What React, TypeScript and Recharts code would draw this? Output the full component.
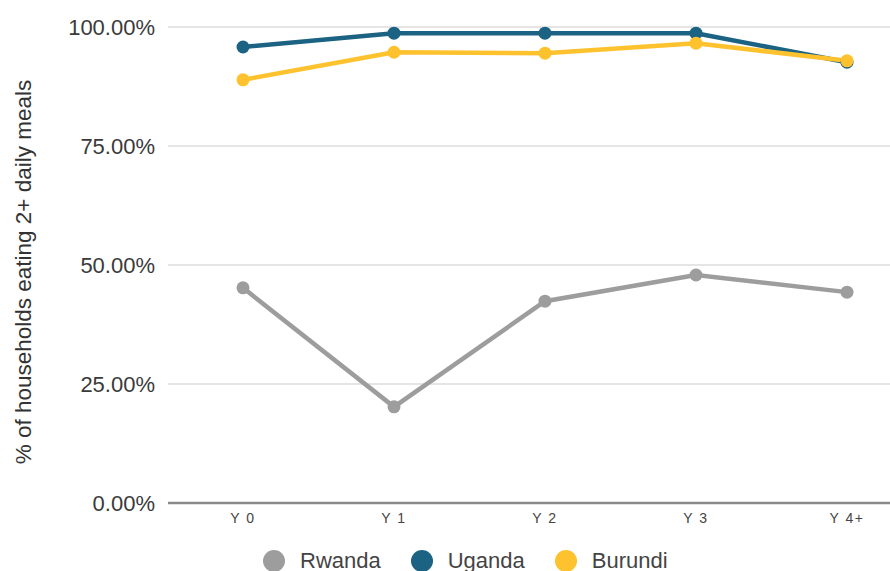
import { LineChart, Line, XAxis, YAxis, CartesianGrid, Legend } from 'recharts';

const years = ['Y 0', 'Y 1', 'Y 2', 'Y 3', 'Y 4+'];
const rwanda = [45.2, 20.2, 42.4, 47.9, 44.3];
const uganda = [95.8, 98.7, 98.7, 98.7, 92.6];
const burundi = [88.9, 94.7, 94.5, 96.6, 92.9];
const yTicks = [0, 25, 50, 75, 100];

const series = [
    { key: 'Rwanda', color: '#9d9d9d' },
    { key: 'Uganda', color: '#1b6283' },
    { key: 'Burundi', color: '#fdc22e' },
];

const data = years.map((year, i) => ({ year, Rwanda: rwanda[i], Uganda: uganda[i], Burundi: burundi[i] }));

const font = '"Liberation Sans", Arial, sans-serif';

function LegendContent() {
    return (
        <div style={{ display: 'flex', alignItems: 'center', height: 25, paddingLeft: 263, paddingTop: 17, fontFamily: font, fontSize: 22, color: '#444' }}>
            {series.map((s) => (
                <div key={s.key} style={{ display: 'flex', alignItems: 'center', marginRight: 30 }}>
                    <span style={{ width: 22, height: 22, borderRadius: 11, background: s.color, display: 'inline-block', marginRight: 15 }} />
                    <span>{s.key}</span>
                </div>
            ))}
        </div>
    );
}

export default function App() {
    return (
        <div style={{ position: 'fixed', left: 0, top: 0, width: 890, height: 571, overflow: 'hidden', background: '#fff' }}>
            <LineChart width={922} height={571} data={data} margin={{ top: 27, right: 0, left: 0, bottom: 0 }}>
                <CartesianGrid vertical={false} stroke="#dcdcdc" strokeWidth={1.5} />
                <XAxis
                    dataKey="year"
                    height={28}
                    padding={{ left: 75, right: 75 }}
                    tickLine={false}
                    axisLine={{ stroke: '#8a8a8a', strokeWidth: 2.5 }}
                    tick={{ fill: '#444', fontSize: 14, fontFamily: font, letterSpacing: 1.5 }}
                    tickMargin={10}
                    tickSize={0}
                />
                <YAxis
                    width={168}
                    domain={[0, 100]}
                    ticks={yTicks}
                    tickFormatter={(v: number) => `${v.toFixed(2)}%`}
                    tickLine={false}
                    axisLine={false}
                    tickSize={0}
                    tickMargin={13}
                    tick={{ fill: '#3a3a3a', fontSize: 22, fontFamily: font }}
                    label={{ value: '% of households eating 2+ daily meals', angle: -90, position: 'insideLeft', dx: 18, dy: 7, style: { textAnchor: 'middle', fill: '#333', fontSize: 22.5, fontFamily: font } }}
                />
                <Legend verticalAlign="bottom" wrapperStyle={{ height: 40, left: 0, width: 922 }} content={<LegendContent />} />
                {series.map((s) => (
                    <Line
                        key={s.key}
                        dataKey={s.key}
                        stroke={s.color}
                        strokeWidth={4.5}
                        dot={{ r: 6.5, fill: s.color, stroke: s.color, strokeWidth: 0 }}
                        activeDot={false}
                        isAnimationActive={false}
                    />
                ))}
            </LineChart>
        </div>
    );
}
